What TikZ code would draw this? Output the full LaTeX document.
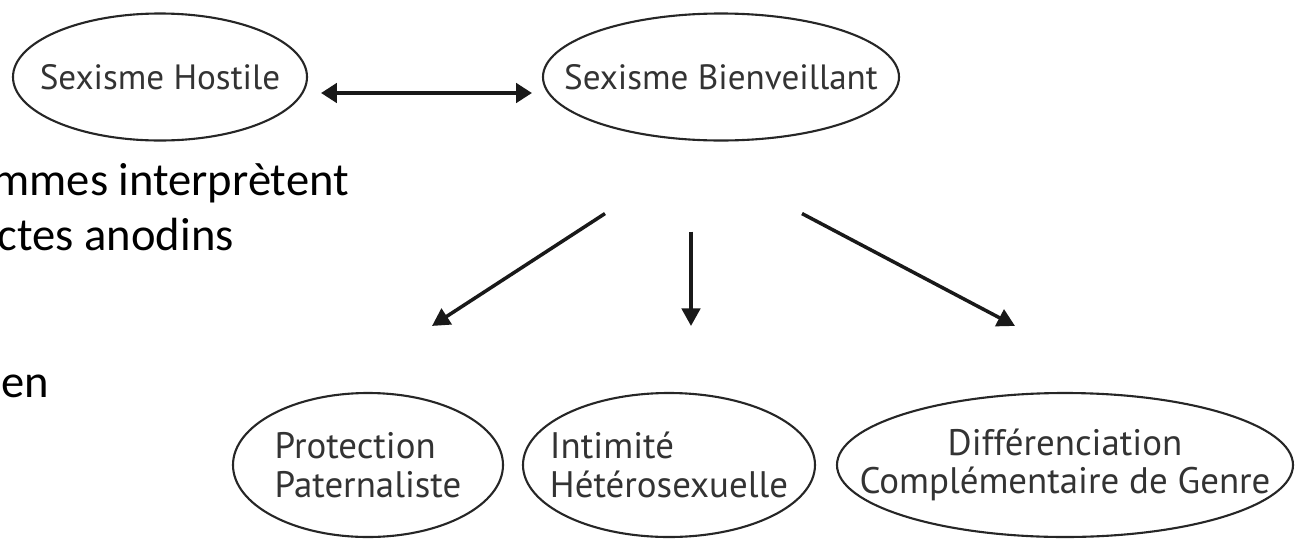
\documentclass[tikz,border=0pt]{standalone}
\usepackage{fontspec}
\setmainfont{Carlito}
\newfontfamily\bullefont{PT Sans}
\usetikzlibrary{shapes.geometric,arrows.meta}

\begin{document}
\begin{tikzpicture}[x=0.02cm, y=-0.02cm]
\tikzset{bulle/.style={draw=black!85, line width=1.2pt, ellipse, inner xsep=-150pt, inner ysep=-50pt, text=black!80, font=\bullefont\fontsize{20}{22}\selectfont}}
\tikzset{grandebulle/.style={bulle, font=\bullefont\fontsize{21}{22}\selectfont}}
\tikzset{fleche/.style={-{Triangle[length=10pt,width=10.5pt]}, line width=2pt, black!90}}
\clip (0, 0) rectangle (1299, 545);
\node[bulle, minimum width=294*0.02cm, minimum height=127*0.02cm] (SH) at (160, 77) {Sexisme Hostile};
\node[bulle, minimum width=356*0.02cm, minimum height=127*0.02cm] (SB) at (721, 77) {Sexisme Bienveillant};
\node[grandebulle, minimum width=270*0.02cm, minimum height=144*0.02cm, align=left] (PP) at (368, 465) {Protection\\Paternaliste};
\node[grandebulle, minimum width=292*0.02cm, minimum height=144*0.02cm, align=left] (IH) at (669, 465) {Intimité\\Hétérosexuelle};
\node[grandebulle, minimum width=456*0.02cm, minimum height=144*0.02cm, align=center] (DC) at (1065, 465) {Différenciation\\Complémentaire de Genre};
\node[anchor=base east, font=\fontsize{26.5}{31}\selectfont] (T1) at (355, 195) {mmes interprètent};
\node[anchor=base east, font=\fontsize{26.5}{31}\selectfont] (T2) at (240, 250) {ctes anodins};
\node[anchor=base east, font=\fontsize{26.5}{31}\selectfont] (T3) at (55, 397) {nen};
\draw[fleche, {Triangle[length=9pt,width=11pt]}-{Triangle[length=9pt,width=11pt]}] ([shift={(13,16)}]SH.east) -- ([shift={(-10,16)}]SB.west);
\draw[fleche] ([shift={(-116,72)}]SB.south) -- ([shift={(64,-66)}]PP.north);
\draw[fleche] ([shift={(-30,90)}]SB.south) -- ([shift={(22,-66)}]IH.north);
\draw[fleche] ([shift={(81,72)}]SB.south) -- ([shift={(-50,-66)}]DC.north);
\end{tikzpicture}
\end{document}
